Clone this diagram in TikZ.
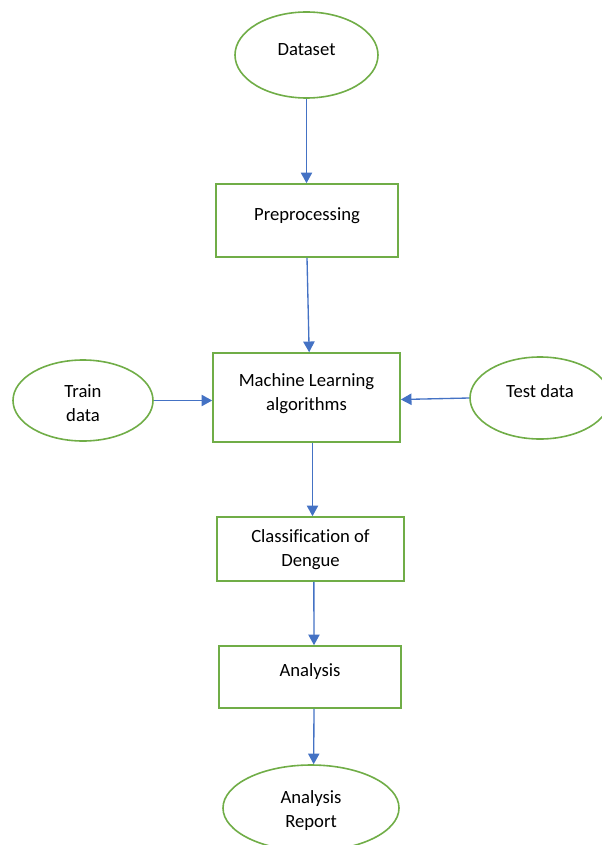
\documentclass[tikz,border=0pt]{standalone}
\usepackage{fontspec}
\setmainfont{Carlito}[Ligatures=NoCommon]
\usetikzlibrary{shapes.geometric,arrows.meta}
\definecolor{boxgreen}{HTML}{70AD47}
\definecolor{flowblue}{HTML}{4472C4}
\tikzset{
  ell/.style={ellipse, draw=boxgreen, line width=1.2pt, inner sep=0pt},
  box/.style={rectangle, draw=boxgreen, line width=1.2pt, inner sep=0pt},
  txt/.style={align=center, font=\fontsize{14pt}{18pt}\selectfont, inner sep=0pt},
  flow/.style={draw=flowblue, line width=1pt, -{Triangle[length=8pt,width=8.5pt]}}
}
\begin{document}
\begin{tikzpicture}[x=0.75pt,y=-0.75pt]
\useasboundingbox (0,0) rectangle (602,845);

% shapes
\node[ell, minimum width=107.25pt, minimum height=64.5pt] (dataset) at (306.5,55) {};
\node[box, minimum width=136.5pt, minimum height=54.75pt] (prep) at (307,220.5) {};
\node[box, minimum width=140.25pt, minimum height=66.75pt] (ml) at (306.5,397.5) {};
\node[ell, minimum width=105pt, minimum height=60.75pt] (train) at (83,400.5) {};
\node[ell, minimum width=105pt, minimum height=61.5pt] (test) at (540,398) {};
\node[box, minimum width=140.25pt, minimum height=48pt] (cls) at (310.5,549) {};
\node[box, minimum width=136.5pt, minimum height=46.5pt] (ana) at (310,677) {};
\node[ell, minimum width=132pt, minimum height=64.5pt] (report) at (311,808) {};

% labels
\node[txt] (dataset-t) at (306.5,49.5) {Dataset};
\node[txt] (prep-t) at (307,216) {Preprocessing};
\node[txt] (ml-t) at (306.5,394) {Machine Learning\\algorithms};
\node[txt] (train-t) at (83,403) {Train\\data};
\node[txt] (test-t) at (540,391) {Test data};
\node[txt] (cls-t) at (310.5,550) {Classification of\\Dengue};
\node[txt] (ana-t) at (310,672) {Analysis};
\node[txt] (report-t) at (311,811) {Analysis\\Report};

% connectors
\draw[flow] (dataset.south) -- (dataset.south |- prep.north);
\draw[flow] (prep.south) -- ([xshift=2pt]ml.north);
\draw[flow] ([xshift=4.5]ml.south) -- ([xshift=1.5]cls.north);
\draw[flow] ([xshift=2.5]cls.south) -- ([xshift=3]ana.north);
\draw[flow] ([xshift=3]ana.south) -- ([xshift=2]report.north);
\draw[flow] (train.east) -- (train.east -| ml.west);
\draw[flow] (test.west) -- ([yshift=-1.5]ml.east);
\end{tikzpicture}
\end{document}
